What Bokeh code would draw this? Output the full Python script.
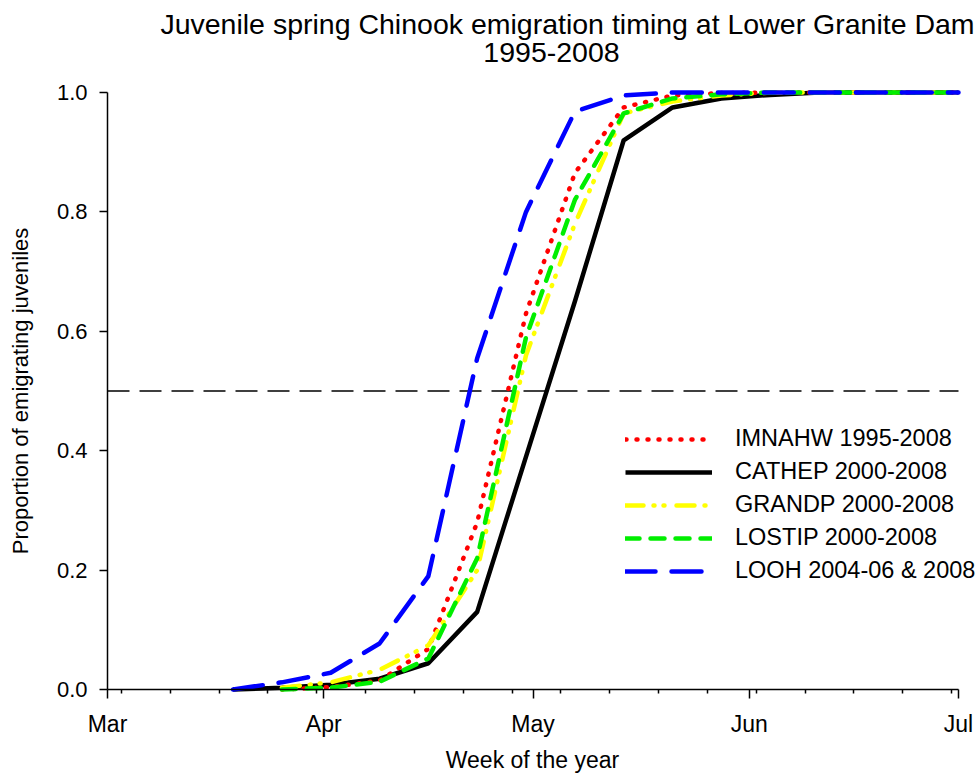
import math
import pandas as pd
from bokeh.plotting import figure
from bokeh.models import (FixedTicker, Range1d, Legend, LegendItem, Label,
                          NumeralTickFormatter)
from bokeh.embed import file_html
from bokeh.resources import INLINE

# ---------------- data ----------------
year_start = "2008-03-01"
week_dates = ["2008-03-19", "2008-03-26", "2008-04-02", "2008-04-09", "2008-04-16",
              "2008-04-23", "2008-04-30", "2008-05-07", "2008-05-14", "2008-05-21",
              "2008-05-28", "2008-06-04", "2008-06-11", "2008-06-18", "2008-06-25",
              "2008-07-01"]
nan = float("nan")
imnahw = [nan, 0.0, 0.004, 0.015, 0.068, 0.28, 0.63, 0.865, 0.975, 0.995, 0.999, 1.0, 1.0, 1.0, 1.0, 1.0]
cathep = [0.0, 0.003, 0.008, 0.018, 0.044, 0.13, 0.39, 0.65, 0.92, 0.975, 0.99, 0.996, 1.0, 1.0, 1.0, 1.0]
grandp = [nan, 0.003, 0.012, 0.033, 0.074, 0.20, 0.56, 0.78, 0.965, 0.985, 0.995, 1.0, 1.0, 1.0, 1.0, 1.0]
lostip = [nan, 0.0, 0.003, 0.013, 0.052, 0.22, 0.59, 0.82, 0.965, 0.99, 0.997, 1.0, 1.0, 1.0, 1.0, 1.0]
looh = [0.0, 0.012, 0.028, 0.077, 0.19, 0.555, 0.80, 0.968, 0.995, 1.0, 1.0, 1.0, 1.0, 1.0, 1.0, 1.0]

series_names = ["IMNAHW 1995-2008", "CATHEP 2000-2008", "GRANDP 2000-2008",
                "LOSTIP 2000-2008", "LOOH 2004-06 & 2008"]
month_dates = ["2008-03-01", "2008-04-01", "2008-05-01", "2008-06-01", "2008-07-01"]
month_labels = ["Mar", "Apr", "May", "Jun", "Jul"]
y_ticks = [0.0, 0.2, 0.4, 0.6, 0.8, 1.0]
half_line = 0.5
title_line1 = "Juvenile spring Chinook emigration timing at Lower Granite Dam"
title_line2 = "1995-2008"
x_title = "Week of the year"
y_title = "Proportion of emigrating juveniles"

# ---------------- conversion to day offsets ----------------
t0 = pd.Timestamp(year_start)
x = [(pd.Timestamp(d) - t0).days for d in week_dates]
month_x = [(pd.Timestamp(d) - t0).days for d in month_dates]
minor_x = list(range(2, month_x[-1], 7))

# ---------------- layout (pixels) ----------------
W, H = 978, 774
AX_L, AX_R, AX_T, AX_B = 107, 958, 92, 689
ppd = (AX_R - AX_L) / (month_x[-1] - month_x[0])
ppu = (AX_B - AX_T) / (y_ticks[-1] - y_ticks[0])
x_lo = month_x[0] - AX_L / ppd
x_hi = month_x[-1] + (W - AX_R) / ppd
y_lo = y_ticks[0] - (H - AX_B) / ppu
y_hi = y_ticks[-1] + AX_T / ppu

FONT = "Liberation Sans"

p = figure(width=W, height=H, output_backend="svg", toolbar_location=None,
           x_range=Range1d(x_lo, x_hi), y_range=Range1d(y_lo, y_hi),
           min_border=0)
p.outline_line_color = None
p.xgrid.visible = False
p.ygrid.visible = False
p.background_fill_color = "white"
p.border_fill_color = "white"

# 0.5 reference line
p.segment(x0=[month_x[0]], x1=[month_x[-1]], y0=[half_line], y1=[half_line],
          line_color="black", line_width=1.3, line_dash="22 10")

LW = 4.5
r_cat = p.line(x, cathep, line_color="black", line_width=LW, line_join="round")
r_imn = p.line(x, imnahw, line_color="#ff0000", line_width=LW, line_dash="1 10",
               line_cap="round", line_join="round")
r_gra = p.line(x, grandp, line_color="#ffff00", line_width=LW, line_dash="18 10 1 9 1 12",
               line_cap="round", line_join="round")
r_los = p.line(x, lostip, line_color="#00ee00", line_width=LW, line_dash="14 11",
               line_cap="round", line_join="round")
r_loo = p.line(x, looh, line_color="#0000ff", line_width=LW, line_dash="30 16",
               line_cap="round", line_join="round")

legend = Legend(items=[
    LegendItem(label=series_names[0], renderers=[r_imn]),
    LegendItem(label=series_names[1], renderers=[r_cat]),
    LegendItem(label=series_names[2], renderers=[r_gra]),
    LegendItem(label=series_names[3], renderers=[r_los]),
    LegendItem(label=series_names[4], renderers=[r_loo]),
], location=(625, 190), padding=0, spacing=6, glyph_width=87, glyph_height=24,
    label_height=24, label_standoff=23, border_line_color=None,
    background_fill_alpha=0, label_text_font=FONT, label_text_font_size="23.5px",
    label_text_color="black")
p.add_layout(legend, "center")

# axes, drawn at the data origin inside the full-canvas frame
for ax in (p.xaxis[0], p.yaxis[0]):
    ax.axis_line_width = 1.5
    ax.major_tick_line_width = 1.5
    ax.minor_tick_line_width = 1.5
    ax.major_tick_in = 0
    ax.minor_tick_in = 0
    ax.major_label_text_font = FONT
    ax.major_label_text_color = "black"

p.xaxis.fixed_location = y_ticks[0]
p.xaxis.bounds = (month_x[0], month_x[-1])
p.xaxis.ticker = FixedTicker(ticks=month_x, minor_ticks=minor_x)
p.xaxis.major_label_overrides = {mx: lab for mx, lab in zip(month_x, month_labels)}
p.xaxis.major_tick_out = 9
p.xaxis.minor_tick_out = 4
p.xaxis.major_label_standoff = 12
p.xaxis.major_label_text_font_size = "23px"

p.yaxis.fixed_location = month_x[0]
p.yaxis.bounds = (y_ticks[0], y_ticks[-1])
p.yaxis.ticker = FixedTicker(ticks=y_ticks)
p.yaxis.formatter = NumeralTickFormatter(format="0.0")
p.yaxis.major_tick_out = 8
p.yaxis.minor_tick_line_color = None
p.yaxis.major_label_standoff = 12
p.yaxis.major_label_text_font_size = "22px"

# titles and axis titles as text in screen units (frame = whole canvas)
def add_text(txt, sx, sy, size, angle=0.0):
    p.add_layout(Label(x=sx, y=H - sy, x_units="screen", y_units="screen", text=txt,
                       angle=angle, text_align="center", text_baseline="middle",
                       text_font=FONT, text_font_size=size, text_color="black"))

add_text(title_line1, 567, 23, "28.5px")
add_text(title_line2, 551, 52, "28.5px")
add_text(x_title, 532, 759, "23px")
add_text(y_title, 20, (AX_T + AX_B) / 2, "22px", angle=math.pi / 2)

open("out.html", "w").write(file_html(p, INLINE))
